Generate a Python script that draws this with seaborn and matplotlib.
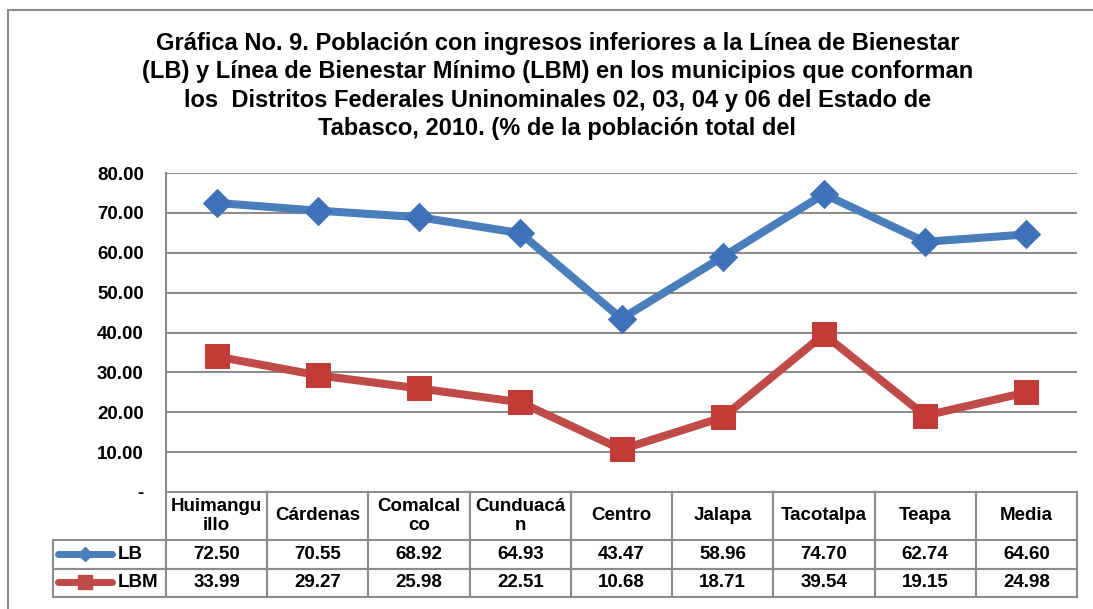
import pandas as pd
import seaborn as sns
import matplotlib.pyplot as plt
from matplotlib.lines import Line2D

municipios = ["Huimanguillo", "Cárdenas", "Comalcalco", "Cunduacán", "Centro",
              "Jalapa", "Tacotalpa", "Teapa", "Media"]
etiquetas = ["Huimangu\nillo", "Cárdenas", "Comalcal\nco", "Cunduacá\nn", "Centro",
             "Jalapa", "Tacotalpa", "Teapa", "Media"]
lb = [72.50, 70.55, 68.92, 64.93, 43.47, 58.96, 74.70, 62.74, 64.60]
lbm = [33.99, 29.27, 25.98, 22.51, 10.68, 18.71, 39.54, 19.15, 24.98]
yticks = [0, 10, 20, 30, 40, 50, 60, 70, 80]
ytick_labels = ["-", "10.00", "20.00", "30.00", "40.00", "50.00", "60.00", "70.00", "80.00"]

titulo = ("Gráfica No. 9. Población con ingresos inferiores a la Línea de Bienestar\n"
          "(LB) y Línea de Bienestar Mínimo (LBM) en los municipios que conforman\n"
          "los  Distritos Federales Uninominales 02, 03, 04 y 06 del Estado de\n"
          "Tabasco, 2010. (% de la población total del")

df = pd.DataFrame({"Municipio": municipios, "LB": lb, "LBM": lbm})

AZUL = "#4a7ebb"
ROJO = "#be4b48"
GRIS = "#8c8c8c"

sns.set_style("white")
plt.rcParams["font.family"] = ["Liberation Sans", "DejaVu Sans"]
plt.rcParams["text.color"] = "black"
plt.rcParams["ytick.color"] = "black"

W, H = 1093, 609
fig = plt.figure(figsize=(W / 100, H / 100), dpi=100)
ax = fig.add_axes([166 / W, 117 / H, 911 / W, 319 / H])

sns.lineplot(data=df, x="Municipio", y="LB", ax=ax, sort=False, color=AZUL,
             linewidth=5.8, marker="D", markersize=14, markerfacecolor="#3d72b8",
             markeredgecolor="#3d72b8", zorder=3)
sns.lineplot(data=df, x="Municipio", y="LBM", ax=ax, sort=False, color=ROJO,
             linewidth=5.8, marker="s", markersize=17, markerfacecolor="#c23b36",
             markeredgecolor="#c23b36", zorder=3)

ax.set_xlim(-0.5, len(municipios) - 0.5)
ax.set_ylim(0, 80)
ax.set_yticks(yticks)
ax.set_yticklabels(ytick_labels, fontsize=13.5, fontweight="bold")
ax.tick_params(axis="y", length=0, pad=16)
ax.set_xticks([])
ax.set_xlabel("")
ax.set_ylabel("")
ax.grid(axis="y", color=GRIS, linewidth=1.5)
for s in ["top", "right", "bottom"]:
    ax.spines[s].set_visible(False)
ax.spines["left"].set_color(GRIS)
ax.spines["left"].set_linewidth(1.5)

# tabla de datos bajo el gráfico
celdas = [[f"{v:.2f}" for v in lb], [f"{v:.2f}" for v in lbm]]
tabla = ax.table(cellText=celdas, rowLabels=["LB", "LBM"], colLabels=etiquetas,
                 cellLoc="center", rowLoc="left", colWidths=[1 / 9] * 9,
                 bbox=[0, -105 / 319, 1, 105 / 319])
tabla._autoColumns = []
tabla.auto_set_font_size(False)
tabla.set_fontsize(13.5)
for (r, c), cell in tabla.get_celld().items():
    cell.set_edgecolor(GRIS)
    cell.set_linewidth(1.5)
    cell.get_text().set_fontweight("bold")
    cell.set_height(48 if r == 0 else 28.5)
    if c == -1:
        cell.set_width(113 / 101 / 9)
        cell.PAD = 0.57

# símbolos de leyenda en la tabla
for yc, col, mk, ms in [(554, AZUL, "D", 7), (582, ROJO, "s", 10)]:
    fig.add_artist(Line2D([58 / W, 112 / W], [1 - yc / H, 1 - yc / H], color=col,
                          linewidth=5, solid_capstyle="round"))
    fig.add_artist(Line2D([85 / W], [1 - yc / H], color=col, marker=mk,
                          markersize=ms, linestyle="none"))

fig.text(0.51, 1 - 86 / H, titulo, ha="center", va="center", fontsize=17,
         fontweight="bold", linespacing=1.3)

# marco exterior (izquierda y arriba)
fig.add_artist(Line2D([8 / W, 8 / W], [-0.05, 1 - 10 / H], color=GRIS, linewidth=1.5))
fig.add_artist(Line2D([8 / W, 1.05], [1 - 10 / H, 1 - 10 / H], color=GRIS, linewidth=1.5))

fig.savefig("out.png", dpi=100)
